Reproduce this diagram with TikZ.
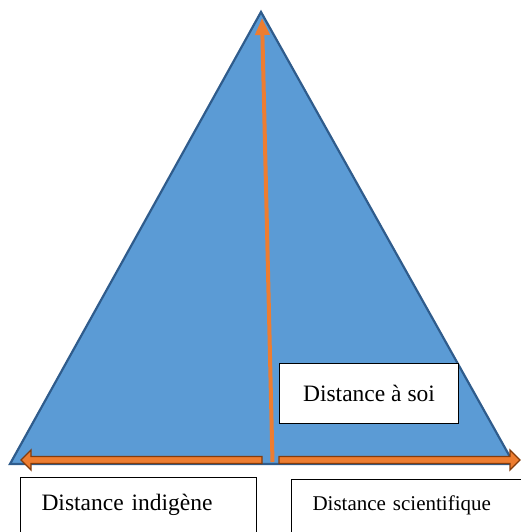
\documentclass[tikz,border=0pt]{standalone}
\usepackage{fontspec}
\setmainfont{Liberation Serif}
\usetikzlibrary{arrows.meta}
\definecolor{triblue}{HTML}{5B9BD5}
\definecolor{triedge}{HTML}{2F5C8C}
\definecolor{arrorange}{HTML}{ED7D31}
\definecolor{arrbrown}{HTML}{843C0C}

\begin{document}
\begin{tikzpicture}[x=1pt, y=-1pt, >={Triangle[length=17pt,width=14pt]},
	labelbox/.style={draw=black, line width=1pt, fill=white, anchor=north west, inner ysep=0pt},
	blockarrow/.style={fill=arrorange, draw=arrbrown, line width=1.3pt, line join=miter}]
	\useasboundingbox (0,0) rectangle (521,532);
	% triangle
	\coordinate (apex) at (261,12);
	\coordinate (tip) at (262,18);
	\coordinate (foot) at (272.5,462);
	\fill[triblue, draw=triedge, line width=2.2pt, line join=miter] (apex) -- (10,464) -- (514,464) -- cycle;
	% distance a soi
	\draw[->, arrorange, line width=4pt] (foot) -- (tip);
	% the two block arrows along the base
	\draw[blockarrow] (262,456.5) -- (31,456.5) -- (31,450) -- (21,460) -- (31,470) -- (31,463.5) -- (262,463.5) -- cycle;
	\draw[blockarrow] (279,456.5) -- (510,456.5) -- (510,450) -- (520,460) -- (510,470) -- (510,463.5) -- (279,463.5) -- cycle;
	% labels
	\node[labelbox, minimum width=179pt, minimum height=60pt, inner xsep=0pt, font=\fontsize{23.5}{28}\selectfont] (soi) at (279,363) {Distance à soi};
	\node[labelbox, text width=194pt, inner xsep=21pt, text height=33pt, text depth=32pt, font=\fontsize{23.5}{28}\selectfont] (indigene) at (20,477) {Distance indigène};
	\node[labelbox, text width=198pt, inner xsep=21pt, text height=31pt, text depth=32pt, font=\fontsize{21}{25}\selectfont] (scientifique) at (291,479) {Distance scientifique};
\end{tikzpicture}
\end{document}
